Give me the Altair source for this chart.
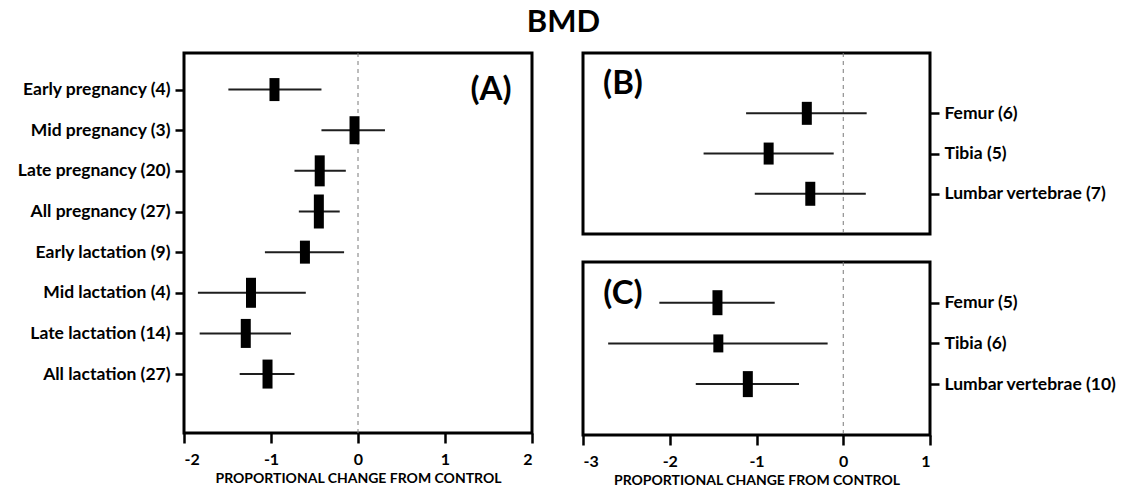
import json
import altair as alt
import pandas as pd

# ---------------- data ----------------
labels_a = ["Early pregnancy (4)", "Mid pregnancy (3)", "Late pregnancy (20)",
            "All pregnancy (27)", "Early lactation (9)", "Mid lactation (4)",
            "Late lactation (14)", "All lactation (27)"]
mean_a = [-0.96, -0.04, -0.44, -0.45, -0.61, -1.23, -1.29, -1.04]
lo_a = [-1.49, -0.42, -0.73, -0.68, -1.07, -1.84, -1.82, -1.36]
hi_a = [-0.42, 0.31, -0.14, -0.21, -0.16, -0.60, -0.77, -0.73]
weight_a = [23, 28, 31, 34, 23, 30, 29, 29]

labels_b = ["Femur (6)", "Tibia (5)", "Lumbar vertebrae (7)"]
mean_b = [-0.42, -0.86, -0.38]
lo_b = [-1.12, -1.61, -1.02]
hi_b = [0.27, -0.11, 0.26]
weight_b = [23, 22, 24]

labels_c = ["Femur (5)", "Tibia (6)", "Lumbar vertebrae (10)"]
mean_c = [-1.45, -1.44, -1.10]
lo_c = [-2.12, -2.71, -1.70]
hi_c = [-0.79, -0.18, -0.51]
weight_c = [25, 18, 26]

ticks_a = [-2, -1, 0, 1, 2]
ticks_c = [-3, -2, -1, 0, 1]
x_title = "PROPORTIONAL CHANGE  FROM CONTROL"

FONT = "Lato"


def panel(labels, mean, lo, hi, weight, xdom, xticks, ydom, width, height,
          yorient, show_x, tag, tag_x, tag_y, extent):
    n = len(labels)
    df = pd.DataFrame({
        "row": list(range(1, n + 1)),
        "label": labels,
        "mean": mean,
        "lo": lo,
        "hi": hi,
        "weight": weight,
    })
    label_expr = json.dumps([""] + labels) + "[datum.value]"
    xscale = alt.Scale(domain=xdom, nice=False, zero=False)
    if show_x:
        xaxis = alt.Axis(values=xticks, labelExpr="'' + datum.value",
                         title=x_title, grid=False, domain=False,
                         ticks=True, tickSize=10, tickWidth=2.5, tickColor="black",
                         labelFont=FONT, labelFontSize=16, labelFontWeight="bold",
                         labelColor="black", labelPadding=8,
                         titleFont=FONT, titleFontSize=14, titleFontWeight="bold",
                         titleColor="black", titlePadding=4)
    else:
        xaxis = None
    yscale = alt.Scale(domain=ydom, reverse=True, nice=False, zero=False)
    yaxis = alt.Axis(values=list(range(1, n + 1)), labelExpr=label_expr,
                     orient=yorient, title=None, grid=False, domain=False,
                     ticks=True, tickSize=9, tickWidth=2.5, tickColor="black",
                     labelFont=FONT, labelFontSize=17.5, labelFontWeight="bold",
                     labelColor="black", labelPadding=5,
                     minExtent=extent, maxExtent=extent)

    zero = alt.Chart(pd.DataFrame({"zero": [0.0]})).mark_rule(
        color="#7a7a7a", strokeWidth=1, strokeDash=[4, 4]
    ).encode(x=alt.X("zero:Q", scale=xscale, axis=xaxis))

    whisk = alt.Chart(df).mark_rule(color="#1e1e1e", strokeWidth=2).encode(
        x=alt.X("lo:Q", scale=xscale, axis=xaxis),
        x2="hi:Q",
        y=alt.Y("row:Q", scale=yscale, axis=yaxis),
    )

    boxes = alt.Chart(df).mark_tick(orient="vertical", thickness=10, color="black",
                                    opacity=1).encode(
        x=alt.X("mean:Q", scale=xscale, axis=xaxis),
        y=alt.Y("row:Q", scale=yscale, axis=yaxis),
        size=alt.Size("weight:Q", scale=alt.Scale(domain=[0, 40], range=[0, 40]),
                      legend=None),
    )

    label = alt.Chart(pd.DataFrame({"t": [tag]})).mark_text(
        font=FONT, fontSize=33, fontWeight="bold", color="black",
        align="center", baseline="middle"
    ).encode(text="t:N", x=alt.value(tag_x), y=alt.value(tag_y))

    return alt.layer(zero, whisk, boxes, label).properties(width=width, height=height)


pa = panel(labels_a, mean_a, lo_a, hi_a, weight_a, [-2, 2], ticks_a, [0.1, 9.45],
           348, 380, "left", True, "(A)", 307, 37, 177)
pb = panel(labels_b, mean_b, lo_b, hi_b, weight_b, [-3, 1], ticks_c, [-0.5, 4.0],
           347, 181, "right", False, "(B)", 40, 31, 190)
pc = panel(labels_c, mean_c, lo_c, hi_c, weight_c, [-3, 1], ticks_c, [0.0, 4.25],
           347, 173, "right", True, "(C)", 40, 32, 190)

right = alt.vconcat(pb, pc, spacing=24)

chart = alt.hconcat(pa, right, spacing=45).properties(
    title=alt.Title("BMD", font=FONT, fontSize=31, fontWeight="bold",
                    color="black", anchor="middle", offset=12),
    padding={"left": 5, "top": 7, "right": 5, "bottom": 2},
    background="white",
).configure_view(
    stroke="black", strokeWidth=3
).configure_concat(spacing=24)

chart.save("out.html", embed_options={"renderer": "svg", "actions": False})
